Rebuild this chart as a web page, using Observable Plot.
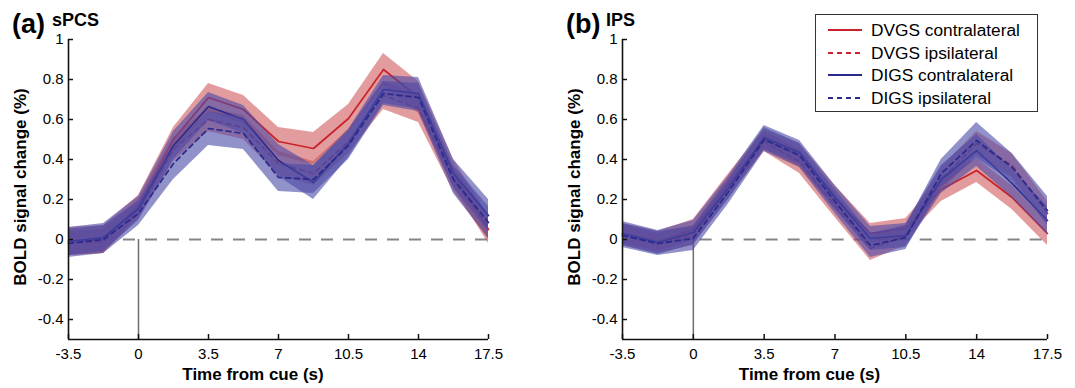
<!DOCTYPE html>
<html><head><meta charset="utf-8">
<script src="https://cdn.jsdelivr.net/npm/d3@7"></script>
<script src="https://cdn.jsdelivr.net/npm/@observablehq/plot@0.6"></script>
<style>
html,body{margin:0;padding:0;background:#fff;}
#wrap{position:relative;width:1075px;height:388px;overflow:hidden;font-family:"Liberation Sans",Arial,sans-serif;color:#000;}
.panel{position:absolute;top:0;}
.panel svg text{font-size:15px !important;font-family:"Liberation Sans",Arial,sans-serif;}
.lbl{position:absolute;font-weight:bold;white-space:nowrap;line-height:1;}
#legend{position:absolute;left:815px;top:14px;width:223px;height:98px;border:1px solid #333;background:#fff;box-sizing:border-box;}
#legend .row{position:absolute;left:0;height:20px;font-size:17.3px;line-height:20px;white-space:nowrap;}
#legend svg{position:absolute;left:12px;top:0;}
#legend span{position:absolute;left:55px;top:0;}
</style></head><body>
<div id="wrap"></div>
<script>
const times = [-3.5,-1.75,0,1.75,3.5,5.25,7,8.75,10.5,12.25,14,15.75,17.5];
const seriesNames = ["DVGS contralateral","DVGS ipsilateral","DIGS contralateral","DIGS ipsilateral"];
const xTicks = [-3.5,0,3.5,7,10.5,14,17.5];
const yTicks = [-0.4,-0.2,0,0.2,0.4,0.6,0.8,1];
const panelTitles = ["sPCS","IPS"];
const panelLetters = ["(a)","(b)"];
const xLabel = "Time from cue (s)";
const yLabel = "BOLD signal change (%)";

// sPCS means and standard errors
const spcsDvgsContra = [-0.01,0.00,0.17,0.50,0.71,0.65,0.49,0.455,0.605,0.85,0.71,0.33,0.05];
const spcsDvgsIpsi   = [-0.02,-0.01,0.15,0.45,0.60,0.56,0.38,0.33,0.49,0.72,0.655,0.30,0.06];
const spcsDigsContra = [-0.01,0.01,0.155,0.47,0.665,0.60,0.395,0.285,0.48,0.75,0.73,0.33,0.12];
const spcsDigsIpsi   = [-0.02,0.00,0.13,0.38,0.555,0.53,0.31,0.30,0.47,0.73,0.71,0.30,0.085];
const spcsDvgsContraSe = [0.07,0.07,0.05,0.06,0.07,0.07,0.07,0.08,0.07,0.08,0.08,0.07,0.07];
const spcsDvgsIpsiSe   = [0.06,0.06,0.05,0.06,0.06,0.06,0.06,0.06,0.06,0.07,0.07,0.06,0.06];
const spcsDigsContraSe = [0.07,0.07,0.06,0.07,0.07,0.07,0.08,0.085,0.07,0.07,0.08,0.07,0.08];
const spcsDigsIpsiSe   = [0.07,0.07,0.06,0.08,0.085,0.08,0.07,0.07,0.07,0.06,0.07,0.07,0.08];

// IPS means and standard errors
const ipsDvgsContra = [0.03,-0.01,0.05,0.28,0.50,0.42,0.21,0.03,0.055,0.25,0.345,0.21,0.03];
const ipsDvgsIpsi   = [0.02,-0.02,0.02,0.26,0.49,0.39,0.17,-0.045,0.02,0.30,0.48,0.37,0.13];
const ipsDigsContra = [0.03,-0.015,0.035,0.26,0.51,0.435,0.21,0.005,0.02,0.30,0.445,0.28,0.095];
const ipsDigsIpsi   = [0.02,-0.02,0.005,0.24,0.50,0.42,0.19,-0.03,0.01,0.33,0.495,0.36,0.145];
const ipsDvgsContraSe = [0.05,0.05,0.05,0.05,0.05,0.06,0.06,0.05,0.05,0.06,0.06,0.06,0.06];
const ipsDvgsIpsiSe   = [0.05,0.05,0.05,0.05,0.05,0.06,0.06,0.06,0.05,0.06,0.06,0.06,0.06];
const ipsDigsContraSe = [0.06,0.06,0.06,0.06,0.06,0.06,0.06,0.06,0.06,0.07,0.08,0.07,0.07];
const ipsDigsIpsiSe   = [0.06,0.06,0.06,0.06,0.06,0.06,0.06,0.06,0.06,0.07,0.09,0.07,0.07];

const lineColors = ["#c9222a","#c9222a","#2a2a8c","#2a2a8c"];
const bandColors = ["#cc4a4e","#cc4a4e","#4a4aa6","#4a4aa6"];
const bandOpacity = [0.55,0.55,0.6,0.6];
const dashes = [null,"5,4",null,"5,4"];

const H = 388;
function makePanel(means, ses, W, mLeft, mRight) {
  const mTop = 39, mBottom = 49;
  const fw = W - mLeft - mRight, fh = H - mTop - mBottom;
  const marks = [
    Plot.ruleY([0], {x1: -0.75, x2: 17.5, stroke: "#858585", strokeWidth: 2, strokeDasharray: "12,10"}),
    Plot.ruleX([0], {y1: -0.5, y2: 0, stroke: "#6e6e6e", strokeWidth: 1.5})
  ];
  seriesNames.forEach((s, i) => {
    const d = times.map((t, j) => ({t, m: means[i][j], lo: means[i][j] - ses[i][j], hi: means[i][j] + ses[i][j]}));
    marks.push(Plot.areaY(d, {x: "t", y1: "lo", y2: "hi", fill: bandColors[i], fillOpacity: bandOpacity[i]}));
    marks.push(Plot.line(d, {x: "t", y: "m", stroke: lineColors[i], strokeWidth: 1.7, strokeDasharray: dashes[i]}));
  });
  marks.push(
    Plot.ruleY([-0.5], {x1: -3.5, x2: 17.5, stroke: "#111", strokeWidth: 1.6}),
    Plot.ruleX([-3.5], {y1: -0.5, y2: 1, stroke: "#111", strokeWidth: 1.6}),
    Plot.tickX(xTicks, {x: d => d, insetTop: fh - 5, stroke: "#111", strokeWidth: 1.5}),
    Plot.tickY(yTicks, {y: d => d, insetRight: fw - 5, stroke: "#111", strokeWidth: 1.5}),
    Plot.axisX(xTicks, {tickSize: 0, tickPadding: 9, fontSize: 15, label: null, tickFormat: d => String(d)}),
    Plot.axisY(yTicks, {tickSize: 0, tickPadding: 5, fontSize: 15, label: null, tickFormat: d => String(d)})
  );
  return Plot.plot({
    width: W, height: H,
    marginLeft: mLeft, marginRight: mRight, marginTop: mTop, marginBottom: mBottom,
    x: {domain: [-3.5, 17.5]},
    y: {domain: [-0.5, 1]},
    style: {fontFamily: "'Liberation Sans', Arial, sans-serif", fontSize: "15px", color: "#000", background: "transparent", overflow: "visible"},
    marks
  });
}

const wrap = document.getElementById("wrap");
const panels = [
  {left: 0, W: 535, mL: 68, mR: 47, means: [spcsDvgsContra, spcsDvgsIpsi, spcsDigsContra, spcsDigsIpsi], ses: [spcsDvgsContraSe, spcsDvgsIpsiSe, spcsDigsContraSe, spcsDigsIpsiSe]},
  {left: 540, W: 535, mL: 82, mR: 28, means: [ipsDvgsContra, ipsDvgsIpsi, ipsDigsContra, ipsDigsIpsi], ses: [ipsDvgsContraSe, ipsDvgsIpsiSe, ipsDigsContraSe, ipsDigsIpsiSe]}
];
panels.forEach((p, k) => {
  const svg = makePanel(p.means, p.ses, p.W, p.mL, p.mR);
  const div = document.createElement("div");
  div.className = "panel";
  div.style.left = p.left + "px";
  div.appendChild(svg);
  wrap.appendChild(div);
  const axisLeft = p.left + p.mL;
  const a = document.createElement("div");
  a.className = "lbl"; a.textContent = panelLetters[k];
  a.style.fontSize = "27px"; a.style.left = (axisLeft - 56) + "px"; a.style.top = "11px";
  wrap.appendChild(a);
  const t = document.createElement("div");
  t.className = "lbl"; t.textContent = panelTitles[k];
  t.style.fontSize = "18px"; t.style.left = (axisLeft - 16) + "px"; t.style.top = "11px";
  wrap.appendChild(t);
  const xl = document.createElement("div");
  xl.className = "lbl"; xl.textContent = xLabel;
  xl.style.fontSize = "17px"; xl.style.top = "366px";
  xl.style.left = (axisLeft + (p.W - p.mL - p.mR) / 2 - 25) + "px";
  xl.style.transform = "translateX(-50%)";
  wrap.appendChild(xl);
  const yl = document.createElement("div");
  yl.className = "lbl"; yl.textContent = yLabel;
  yl.style.fontSize = "17px";
  yl.style.left = (axisLeft - 48) + "px"; yl.style.top = "187px";
  yl.style.transform = "translate(-50%,-50%) rotate(-90deg)";
  wrap.appendChild(yl);
});

const leg = document.createElement("div");
leg.id = "legend";
seriesNames.forEach((s, i) => {
  const row = document.createElement("div");
  row.className = "row";
  row.style.top = (5 + i * 22.5) + "px";
  row.style.width = "220px";
  row.innerHTML = `<svg width="36" height="20"><line x1="0" x2="34" y1="10" y2="10" stroke="${lineColors[i]}" stroke-width="2" ${dashes[i] ? `stroke-dasharray="${dashes[i]}"` : ""}/></svg><span>${s}</span>`;
  leg.appendChild(row);
});
wrap.appendChild(leg);
</script>
</body></html>
